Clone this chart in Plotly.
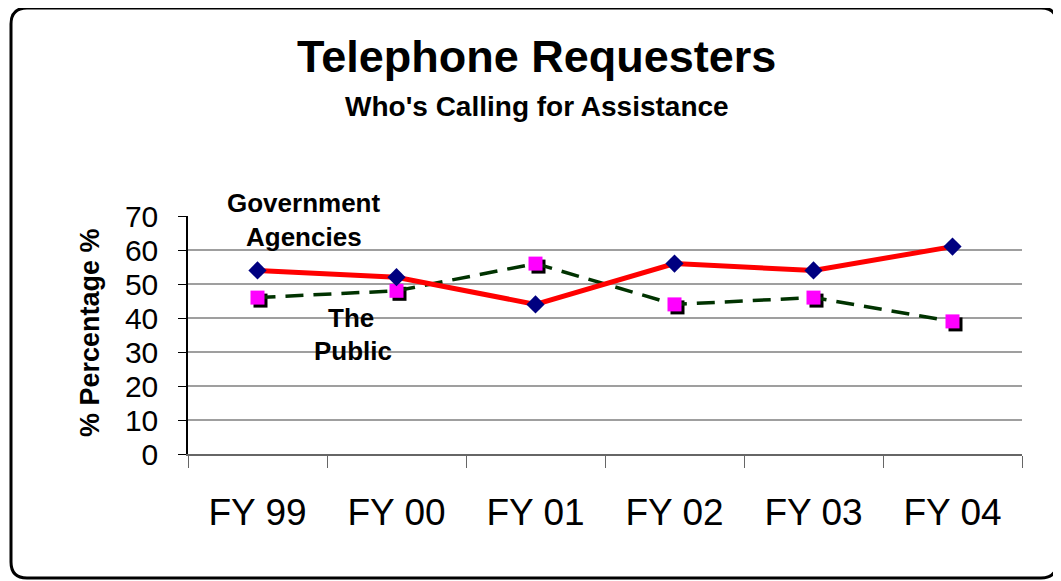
import plotly.graph_objects as go

categories = ["FY 99", "FY 00", "FY 01", "FY 02", "FY 03", "FY 04"]
government = [54, 52, 44, 56, 54, 61]
public = [46, 48, 56, 44, 46, 39]
y_ticks = [0, 10, 20, 30, 40, 50, 60, 70]

OFF = 8  # default body margin of the html page
W, H = 1061 - OFF, 581 - OFF
# plot area in page pixels
PL, PR, PT, PB = 188, 1022, 216, 454
FONT = "Liberation Sans, Arial, sans-serif"


def px(x):
    return (x - PL) / (PR - PL)


def py(y):
    return (PB - y) / (PB - PT)


fig = go.Figure()

# invisible trace to set up main category axis
fig.add_trace(go.Scatter(x=categories, y=government, mode="none",
                         hoverinfo="skip", showlegend=False))

# shadow of square markers (drawn on slightly shifted axes)
fig.add_trace(go.Scatter(
    x=categories, y=public, mode="markers", xaxis="x2", yaxis="y2",
    marker=dict(symbol="square", size=14, color="black"),
    hoverinfo="skip", showlegend=False))

fig.add_trace(go.Scatter(
    x=categories, y=public, mode="lines+markers", name="The Public",
    xaxis="x3", yaxis="y3",
    line=dict(color="#003300", width=3.5, dash="18px,10px"),
    marker=dict(symbol="square", size=14, color="#FF00FF"),
    showlegend=False))

fig.add_trace(go.Scatter(
    x=categories, y=government, mode="lines+markers", name="Government Agencies",
    xaxis="x3", yaxis="y3",
    line=dict(color="#FF0000", width=5),
    marker=dict(symbol="diamond", size=14, color="#000080"),
    showlegend=False))

sx = 3 / (PR - PL)
sy = 3 / (PB - PT)

fig.update_layout(
    width=W, height=H,
    margin=dict(l=PL - OFF, r=W - (PR - OFF), t=PT - OFF, b=H - (PB - OFF)),
    paper_bgcolor="white", plot_bgcolor="white",
    font=dict(family=FONT, color="black"),
    xaxis=dict(
        type="category", range=[-0.5, 5.5],
        showline=True, linecolor="#666666", linewidth=1.5,
        ticks="outside", tickson="boundaries", ticklen=12, tickcolor="#666666",
        showgrid=False, tickfont=dict(size=37, family=FONT),
        ticklabelstandoff=25,
    ),
    yaxis=dict(
        range=[0, 70], tickvals=y_ticks,
        showline=True, linecolor="black", linewidth=1.5,
        ticks="outside", ticklen=8, tickcolor="black",
        showgrid=False, zeroline=False, tickfont=dict(size=30, family=FONT),
        ticklabelstandoff=14,
    ),
    xaxis2=dict(type="category", range=[-0.5 - 6 * sx, 5.5 - 6 * sx],
                overlaying="x", visible=False),
    yaxis2=dict(range=[70 * sy, 70 + 70 * sy], overlaying="y", visible=False),
    xaxis3=dict(type="category", range=[-0.5, 5.5], overlaying="x", visible=False),
    yaxis3=dict(range=[0, 70], overlaying="y", visible=False),
)

for v in y_ticks[1:-1]:
    fig.add_shape(type="line", xref="paper", yref="y", x0=0, x1=1, y0=v, y1=v,
                  line=dict(color="#404040", width=1.2), layer="below")

annots = [
    ("<b>Telephone Requesters</b>", 536, 57, 45, 0),
    ("<b>Who's Calling for Assistance</b>", 537, 106, 28, 0),
    ("<b>Government</b>", 303, 203, 26, 0),
    ("<b>Agencies</b>", 304, 237, 26, 0),
    ("<b>The</b>", 351, 318, 26, 0),
    ("<b>Public</b>", 353, 351, 26, 0),
    ("<b>% Percentage %</b>", 90, 333, 27, -90),
]
for text, x, y, s, ang in annots:
    fig.add_annotation(text=text, x=px(x), y=py(y), xref="paper", yref="paper",
                       showarrow=False, xanchor="center", yanchor="middle",
                       textangle=ang,
                       font=dict(size=s, family=FONT, color="black"))

# rounded border
x0, y0, x1, y1, r = 11, 8, 1057, 578, 16
path = (f"M {px(x0 + r)},{py(y0)} L {px(x1 - r)},{py(y0)} "
        f"Q {px(x1)},{py(y0)} {px(x1)},{py(y0 + r)} "
        f"L {px(x1)},{py(y1 - r)} Q {px(x1)},{py(y1)} {px(x1 - r)},{py(y1)} "
        f"L {px(x0 + r)},{py(y1)} Q {px(x0)},{py(y1)} {px(x0)},{py(y1 - r)} "
        f"L {px(x0)},{py(y0 + r)} Q {px(x0)},{py(y0)} {px(x0 + r)},{py(y0)} Z")
fig.add_shape(type="path", path=path, xref="paper", yref="paper",
              line=dict(color="black", width=3))

fig.write_html("out.html")
